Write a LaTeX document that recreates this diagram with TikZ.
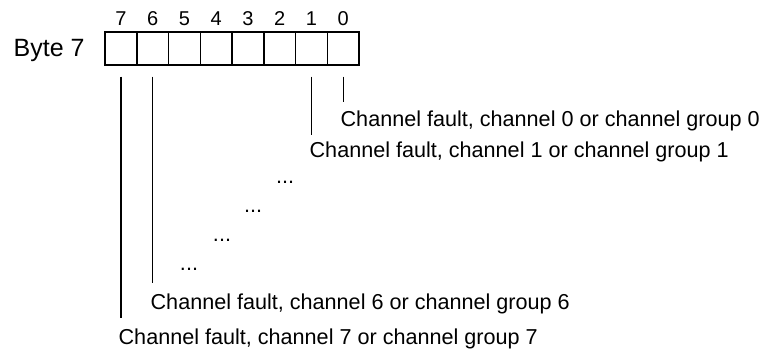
\documentclass[tikz,border=0pt]{standalone}
\usepackage{fontspec}
\setmainfont{Liberation Sans}
\begin{document}
\begin{tikzpicture}[
    x=1pt, y=-1pt,
    line width=1.3pt,
    bitcell/.style={rectangle, draw, minimum width=31.75pt, minimum height=33pt, inner sep=0pt},
    bitnum/.style={font=\fontsize{20}{22}\selectfont, inner sep=0pt},
    bytelbl/.style={font=\fontsize{25}{28}\selectfont, anchor=west, inner sep=0pt},
    faultlbl/.style={font=\fontsize{21.6}{24}\selectfont, anchor=west, inner sep=0pt},
    dotslbl/.style={font=\fontsize{21.6}{24}\selectfont, inner sep=0pt},
    lead/.style={line width=1.4pt}
]
    \useasboundingbox (0,0) rectangle (764,353);

    % Byte 7 with its bits
    \node (byte) [bytelbl] at (13,50) {Byte 7};
    \foreach \b in {0,...,7} {
        \node (c\b) [bitcell] at ({121+(7-\b)*31.75},48.5) {};
        \node (n\b) [bitnum] at ({121+(7-\b)*31.75},18.5) {\b};
    }

    % Texts
    \node (f0) [faultlbl] at (340,121) {Channel fault, channel 0 or channel group 0};
    \node (f1) [faultlbl] at (309,152) {Channel fault, channel 1 or channel group 1};
    \node (d1) [dotslbl] at (285,182) {...};
    \node (d2) [dotslbl] at (253,211) {...};
    \node (d3) [dotslbl] at (222,240) {...};
    \node (d4) [dotslbl] at (189,269) {...};
    \node (f6) [faultlbl] at (150,304) {Channel fault, channel 6 or channel group 6};
    \node (f7) [faultlbl] at (118,339) {Channel fault, channel 7 or channel group 7};

    % Lead lines
    \coordinate (e0) at (c0 |- 0,102);
    \coordinate (e1) at (c1 |- 0,135);
    \coordinate (e6) at (c6 |- 0,283);
    \coordinate (e7) at (c7 |- 0,318);
    \foreach \b in {0,1,6,7} {
        \draw [lead] ([yshift=-11pt]c\b.south) -- (e\b);
    }
\end{tikzpicture}
\end{document}
